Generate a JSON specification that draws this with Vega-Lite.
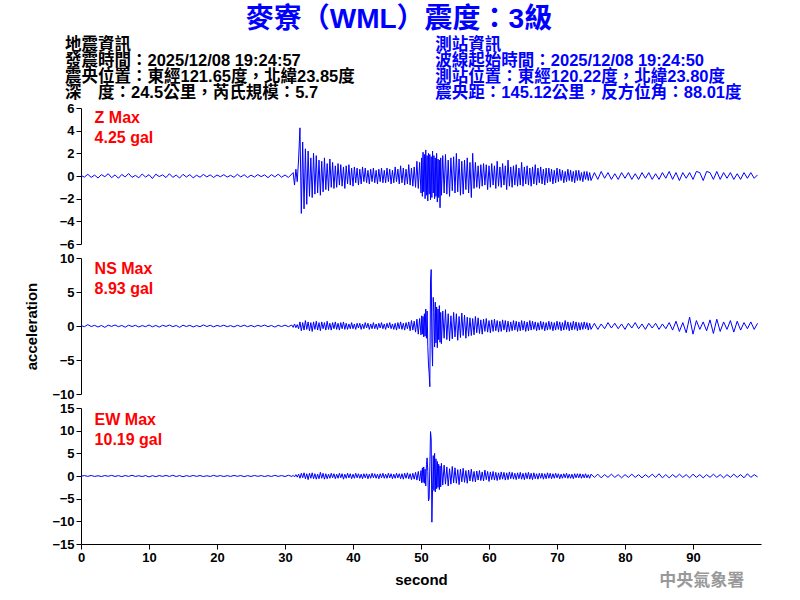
{
"$schema": "https://vega.github.io/schema/vega-lite/v6.json",
"background": "white",
"padding": {"left": 24, "top": 6, "right": 30, "bottom": 5},
"title": {"text": "麥寮（WML）震度：3級", "color": "#0000FF", "font": "Liberation Sans, Noto Sans CJK TC", "fontSize": 28, "fontWeight": "bold", "anchor": "middle", "offset": 3, "dx": 6},
"config": {
  "view": {"stroke": null},
  "axis": {"grid": false, "domainColor": "black", "tickColor": "black", "labelColor": "black", "titleColor": "black", "labelFont": "Liberation Sans", "labelFontSize": 13, "labelFontWeight": "bold", "titleFont": "Liberation Sans", "titleFontSize": 15, "titleFontWeight": "bold", "tickSize": 5, "labelPadding": 2, "labelFlush": false, "labelOverlap": false}
},
"datasets": {
"info": [
{"col": -2.35, "line": 1, "side": "L", "txt": "地震資訊"},
{"col": -2.35, "line": 2, "side": "L", "txt": "發震時間：2025/12/08 19:24:57"},
{"col": -2.35, "line": 3, "side": "L", "txt": "震央位置：東經121.65度，北緯23.85度"},
{"col": -2.35, "line": 4, "side": "L", "txt": "深　度：24.5公里，芮氏規模：5.7"},
{"col": 52.1, "line": 1, "side": "R", "txt": "測站資訊"},
{"col": 52.1, "line": 2, "side": "R", "txt": "波線起始時間：2025/12/08 19:24:50"},
{"col": 52.1, "line": 3, "side": "R", "txt": "測站位置：東經120.22度，北緯23.80度"},
{"col": 52.1, "line": 4, "side": "R", "txt": "震央距：145.12公里，反方位角：88.01度"}
],
"wave": [
{"t":0,"z":0.05,"n":0.05,"e":-0.05},
{"t":0.5,"z":-0.1,"n":-0.1,"e":0.1},
{"t":1,"z":0.15,"n":0.2,"e":-0.08},
{"t":1.5,"z":-0.12,"n":-0.08,"e":0.12},
{"t":2,"z":0.08,"n":0.1,"e":-0.1},
{"t":2.5,"z":-0.18,"n":-0.15,"e":0.06},
{"t":3,"z":0.12,"n":0.08,"e":-0.12},
{"t":3.5,"z":-0.06,"n":-0.2,"e":0.1},
{"t":4,"z":0.2,"n":0.12,"e":-0.06},
{"t":4.5,"z":-0.15,"n":-0.06,"e":0.14},
{"t":5,"z":0.1,"n":0.15,"e":-0.1},
{"t":5.5,"z":-0.2,"n":-0.1,"e":0.08},
{"t":6,"z":0.14,"n":0.08,"e":-0.14},
{"t":6.5,"z":-0.08,"n":-0.18,"e":0.1},
{"t":7,"z":0.22,"n":0.12,"e":-0.08},
{"t":7.5,"z":-0.12,"n":-0.08,"e":0.15},
{"t":8,"z":0.06,"n":0.1,"e":-0.1},
{"t":8.5,"z":-0.16,"n":-0.14,"e":0.06},
{"t":9,"z":0.18,"n":0.06,"e":-0.12},
{"t":9.5,"z":-0.1,"n":-0.1,"e":0.1},
{"t":10,"z":0.12,"n":0.15,"e":-0.2},
{"t":10.5,"z":-0.22,"n":-0.12,"e":0.08},
{"t":11,"z":0.16,"n":0.08,"e":-0.14},
{"t":11.5,"z":-0.05,"n":-0.16,"e":0.1},
{"t":12,"z":0.1,"n":0.1,"e":-0.08},
{"t":12.5,"z":-0.14,"n":-0.06,"e":0.12},
{"t":13,"z":0.2,"n":0.14,"e":-0.1},
{"t":13.5,"z":-0.12,"n":-0.1,"e":0.16},
{"t":14,"z":0.08,"n":0.08,"e":-0.12},
{"t":14.5,"z":-0.18,"n":-0.2,"e":0.1},
{"t":15,"z":0.15,"n":0.12,"e":-0.16},
{"t":15.5,"z":-0.09,"n":-0.08,"e":0.08},
{"t":16,"z":0.12,"n":0.1,"e":-0.1},
{"t":16.5,"z":-0.16,"n":-0.14,"e":0.12},
{"t":17,"z":0.07,"n":0.06,"e":-0.08},
{"t":17.5,"z":-0.11,"n":-0.1,"e":0.1},
{"t":18,"z":0.14,"n":0.16,"e":-0.12},
{"t":18.5,"z":-0.08,"n":-0.08,"e":0.06},
{"t":19,"z":0.1,"n":0.1,"e":-0.1},
{"t":19.5,"z":-0.13,"n":-0.12,"e":0.14},
{"t":20,"z":0.09,"n":0.08,"e":-0.08},
{"t":20.5,"z":-0.07,"n":-0.06,"e":0.1},
{"t":21,"z":0.12,"n":0.12,"e":-0.12},
{"t":21.5,"z":-0.1,"n":-0.1,"e":0.08},
{"t":22,"z":0.06,"n":0.06,"e":-0.1},
{"t":22.5,"z":-0.12,"n":-0.14,"e":0.12},
{"t":23,"z":0.15,"n":0.1,"e":-0.06},
{"t":23.5,"z":-0.09,"n":-0.08,"e":0.1},
{"t":24,"z":0.11,"n":0.12,"e":-0.14},
{"t":24.5,"z":-0.14,"n":-0.1,"e":0.08},
{"t":25,"z":0.08,"n":0.08,"e":-0.1},
{"t":25.5,"z":-0.1,"n":-0.12,"e":0.12},
{"t":26,"z":0.13,"n":0.1,"e":-0.08},
{"t":26.5,"z":-0.06,"n":-0.06,"e":0.1},
{"t":27,"z":0.1,"n":0.14,"e":-0.12},
{"t":27.5,"z":-0.15,"n":-0.1,"e":0.08},
{"t":28,"z":0.12,"n":0.08,"e":-0.1},
{"t":28.5,"z":-0.08,"n":-0.16,"e":0.14},
{"t":29,"z":0.16,"n":0.1,"e":-0.08},
{"t":29.5,"z":-0.11,"n":-0.08,"e":0.1},
{"t":30,"z":0.09,"n":0.12,"e":-0.12},
{"t":30.5,"z":-0.13,"n":-0.1,"e":0.16},
{"t":31,"z":0.18,"n":0.14,"e":-0.1},
{"t":31.2,"z":0.3,"n":-0.2,"e":0.15},
{"t":31.4,"z":-0.8,"n":0.3,"e":-0.2},
{"t":31.6,"z":0.6,"n":-0.25,"e":0.3},
{"t":31.8,"z":-0.5,"n":0.2,"e":-0.25},
{"t":32.0,"z":1.5,"n":-0.4,"e":0.4},
{"t":32.2,"z":4.25,"n":0.6,"e":-0.5},
{"t":32.4,"z":-3.3,"n":-0.7,"e":0.6},
{"t":32.6,"z":3.0,"n":0.5,"e":-0.4},
{"t":32.8,"z":-2.9,"n":-0.6,"e":0.7},
{"t":33.0,"z":2.4,"n":0.8,"e":-0.6},
{"t":33.2,"z":-2.5,"n":-0.5,"e":0.5},
{"t":33.4,"z":2.2,"n":0.6,"e":-0.8},
{"t":33.6,"z":-1.8,"n":-0.7,"e":0.6},
{"t":33.8,"z":1.6,"n":0.5,"e":-0.5},
{"t":34.0,"z":-1.9,"n":-0.8,"e":0.7},
{"t":34.2,"z":2.0,"n":0.6,"e":-0.6},
{"t":34.4,"z":-1.6,"n":-0.5,"e":0.5},
{"t":34.6,"z":1.8,"n":0.7,"e":-0.7},
{"t":34.8,"z":-1.5,"n":-0.6,"e":0.4},
{"t":35.0,"z":1.4,"n":0.5,"e":-0.6},
{"t":35.2,"z":-1.7,"n":-0.7,"e":0.8},
{"t":35.4,"z":1.3,"n":0.6,"e":-0.5},
{"t":35.6,"z":-1.4,"n":-0.4,"e":0.6},
{"t":35.8,"z":1.6,"n":0.5,"e":-0.7},
{"t":36.0,"z":-1.2,"n":-0.6,"e":0.5},
{"t":36.2,"z":1.1,"n":0.7,"e":-0.6},
{"t":36.4,"z":-1.3,"n":-0.5,"e":0.4},
{"t":36.6,"z":1.5,"n":0.4,"e":-0.5},
{"t":36.8,"z":-1.0,"n":-0.6,"e":0.6},
{"t":37.0,"z":1.2,"n":0.5,"e":-0.4},
{"t":37.2,"z":-1.1,"n":-0.4,"e":0.5},
{"t":37.4,"z":0.9,"n":0.6,"e":-0.6},
{"t":37.6,"z":-1.0,"n":-0.5,"e":0.4},
{"t":37.8,"z":1.1,"n":0.4,"e":-0.5},
{"t":38.0,"z":-0.8,"n":-0.6,"e":0.6},
{"t":38.2,"z":1.0,"n":0.5,"e":-0.4},
{"t":38.4,"z":-0.9,"n":-0.4,"e":0.5},
{"t":38.6,"z":0.8,"n":0.6,"e":-0.7},
{"t":38.8,"z":-1.1,"n":-0.5,"e":0.4},
{"t":39.0,"z":0.9,"n":0.4,"e":-0.5},
{"t":39.2,"z":-0.7,"n":-0.5,"e":0.6},
{"t":39.4,"z":1.0,"n":0.3,"e":-0.4},
{"t":39.6,"z":-0.8,"n":-0.4,"e":0.5},
{"t":39.8,"z":0.7,"n":0.5,"e":-0.6},
{"t":40.0,"z":-0.9,"n":-0.4,"e":0.4},
{"t":40.2,"z":0.8,"n":0.3,"e":-0.5},
{"t":40.4,"z":-0.6,"n":-0.5,"e":0.6},
{"t":40.6,"z":0.7,"n":0.4,"e":-0.4},
{"t":40.8,"z":-0.8,"n":-0.3,"e":0.5},
{"t":41.0,"z":0.6,"n":0.4,"e":-0.5},
{"t":41.2,"z":-0.7,"n":-0.5,"e":0.4},
{"t":41.4,"z":0.8,"n":0.3,"e":-0.6},
{"t":41.6,"z":-0.5,"n":-0.4,"e":0.5},
{"t":41.8,"z":0.7,"n":0.5,"e":-0.4},
{"t":42.0,"z":-0.6,"n":-0.3,"e":0.5},
{"t":42.2,"z":0.5,"n":0.4,"e":-0.6},
{"t":42.4,"z":-0.7,"n":-0.5,"e":0.4},
{"t":42.6,"z":0.6,"n":0.3,"e":-0.5},
{"t":42.8,"z":-0.5,"n":-0.4,"e":0.6},
{"t":43.0,"z":0.7,"n":0.5,"e":-0.4},
{"t":43.2,"z":-0.6,"n":-0.4,"e":0.5},
{"t":43.4,"z":0.5,"n":0.3,"e":-0.5},
{"t":43.6,"z":-0.7,"n":-0.5,"e":0.4},
{"t":43.8,"z":0.6,"n":0.4,"e":-0.6},
{"t":44.0,"z":-0.5,"n":-0.3,"e":0.5},
{"t":44.2,"z":0.7,"n":0.5,"e":-0.4},
{"t":44.4,"z":-0.6,"n":-0.4,"e":0.6},
{"t":44.6,"z":0.5,"n":0.3,"e":-0.5},
{"t":44.8,"z":-0.6,"n":-0.5,"e":0.4},
{"t":45.0,"z":0.7,"n":0.4,"e":-0.5},
{"t":45.2,"z":-0.5,"n":-0.3,"e":0.6},
{"t":45.4,"z":0.6,"n":0.5,"e":-0.4},
{"t":45.6,"z":-0.7,"n":-0.4,"e":0.5},
{"t":45.8,"z":0.5,"n":0.3,"e":-0.6},
{"t":46.0,"z":-0.6,"n":-0.5,"e":0.4},
{"t":46.2,"z":0.8,"n":0.4,"e":-0.5},
{"t":46.4,"z":-0.5,"n":-0.6,"e":0.6},
{"t":46.6,"z":0.6,"n":0.5,"e":-0.4},
{"t":46.8,"z":-0.7,"n":-0.4,"e":0.5},
{"t":47.0,"z":0.9,"n":0.6,"e":-0.6},
{"t":47.2,"z":-0.6,"n":-0.5,"e":0.5},
{"t":47.4,"z":0.7,"n":0.4,"e":-0.7},
{"t":47.6,"z":-0.8,"n":-0.6,"e":0.6},
{"t":47.8,"z":0.6,"n":0.5,"e":-0.5},
{"t":48.0,"z":-0.7,"n":-0.4,"e":0.7},
{"t":48.2,"z":1.0,"n":0.6,"e":-0.6},
{"t":48.4,"z":-0.8,"n":-0.7,"e":0.5},
{"t":48.6,"z":0.7,"n":0.8,"e":-0.8},
{"t":48.8,"z":-0.9,"n":-0.6,"e":0.6},
{"t":49.0,"z":0.8,"n":0.7,"e":-0.7},
{"t":49.2,"z":-1.0,"n":-0.9,"e":0.8},
{"t":49.4,"z":1.3,"n":1.0,"e":-0.9},
{"t":49.6,"z":-1.1,"n":-1.2,"e":1.0},
{"t":49.8,"z":1.2,"n":1.1,"e":-1.1},
{"t":50.0,"z":-1.5,"n":-1.3,"e":1.2},
{"t":50.1,"z":1.6,"n":1.5,"e":-1.5},
{"t":50.2,"z":-1.8,"n":-1.2,"e":1.8},
{"t":50.3,"z":2.1,"n":1.4,"e":-1.4},
{"t":50.4,"z":-1.4,"n":-1.6,"e":2.0},
{"t":50.5,"z":1.9,"n":1.8,"e":-1.6},
{"t":50.6,"z":-2.0,"n":-1.5,"e":1.5},
{"t":50.7,"z":2.3,"n":2.5,"e":-2.2},
{"t":50.8,"z":-1.7,"n":-1.8,"e":2.5},
{"t":50.9,"z":1.8,"n":2.2,"e":4.0},
{"t":51.0,"z":-2.2,"n":-3.0,"e":1.0},
{"t":51.1,"z":2.0,"n":-5.6,"e":-5.5},
{"t":51.2,"z":-1.6,"n":-7.0,"e":-5.0},
{"t":51.3,"z":1.9,"n":-8.93,"e":2.0},
{"t":51.4,"z":-2.1,"n":6.6,"e":9.8},
{"t":51.5,"z":1.7,"n":8.3,"e":8.2},
{"t":51.6,"z":-1.9,"n":-2.6,"e":-10.19},
{"t":51.7,"z":2.2,"n":-5.9,"e":-3.0},
{"t":51.8,"z":-1.5,"n":4.2,"e":4.5},
{"t":51.9,"z":1.8,"n":2.0,"e":-3.2},
{"t":52.0,"z":-2.0,"n":-3.1,"e":5.0},
{"t":52.1,"z":1.6,"n":3.5,"e":-3.5},
{"t":52.2,"z":-1.8,"n":-2.5,"e":3.8},
{"t":52.3,"z":2.0,"n":2.8,"e":-2.8},
{"t":52.4,"z":-2.3,"n":-3.2,"e":3.2},
{"t":52.5,"z":1.5,"n":2.5,"e":-2.5},
{"t":52.6,"z":-1.9,"n":-2.0,"e":2.6},
{"t":52.7,"z":1.4,"n":3.0,"e":-3.0},
{"t":52.8,"z":-2.8,"n":-2.4,"e":2.2},
{"t":52.9,"z":1.6,"n":2.0,"e":-2.4},
{"t":53.0,"z":-1.7,"n":-2.6,"e":2.8},
{"t":53.2,"z":1.8,"n":2.2,"e":-2.0},
{"t":53.4,"z":-1.5,"n":-1.8,"e":2.4},
{"t":53.6,"z":1.9,"n":2.4,"e":-1.8},
{"t":53.8,"z":-1.6,"n":-2.0,"e":2.0},
{"t":54.0,"z":1.4,"n":1.8,"e":-2.2},
{"t":54.2,"z":-1.8,"n":-2.2,"e":1.6},
{"t":54.4,"z":1.6,"n":1.5,"e":-1.8},
{"t":54.6,"z":-1.3,"n":-1.9,"e":2.1},
{"t":54.8,"z":1.7,"n":2.0,"e":-1.5},
{"t":55.0,"z":-1.5,"n":-1.6,"e":1.8},
{"t":55.2,"z":2.0,"n":1.8,"e":-1.6},
{"t":55.4,"z":-1.4,"n":-2.1,"e":1.4},
{"t":55.6,"z":1.5,"n":1.4,"e":-1.9},
{"t":55.8,"z":-1.7,"n":-1.7,"e":1.5},
{"t":56.0,"z":1.3,"n":1.9,"e":-1.3},
{"t":56.2,"z":-1.6,"n":-1.4,"e":1.7},
{"t":56.4,"z":1.4,"n":1.6,"e":-1.4},
{"t":56.6,"z":-1.2,"n":-1.8,"e":1.2},
{"t":56.8,"z":1.6,"n":1.3,"e":-1.6},
{"t":57.0,"z":-1.5,"n":-1.5,"e":1.3},
{"t":57.2,"z":1.2,"n":1.2,"e":-1.1},
{"t":57.4,"z":-1.9,"n":-1.4,"e":1.5},
{"t":57.6,"z":2.0,"n":1.1,"e":-1.2},
{"t":57.8,"z":-1.1,"n":-1.3,"e":1.0},
{"t":58.0,"z":1.2,"n":1.4,"e":-1.3},
{"t":58.2,"z":-1.0,"n":-1.0,"e":1.1},
{"t":58.4,"z":0.9,"n":1.2,"e":-0.9},
{"t":58.6,"z":-1.1,"n":-1.1,"e":1.2},
{"t":58.8,"z":1.0,"n":0.9,"e":-1.0},
{"t":59.0,"z":-0.9,"n":-1.2,"e":0.9},
{"t":59.2,"z":1.1,"n":1.0,"e":-1.1},
{"t":59.4,"z":-0.8,"n":-0.8,"e":1.3},
{"t":59.6,"z":1.0,"n":1.1,"e":-0.8},
{"t":59.8,"z":-1.2,"n":-0.9,"e":1.0},
{"t":60.0,"z":0.9,"n":0.8,"e":-1.2},
{"t":60.2,"z":-1.0,"n":-1.0,"e":0.9},
{"t":60.4,"z":1.1,"n":0.9,"e":-0.8},
{"t":60.6,"z":-0.8,"n":-0.8,"e":1.0},
{"t":60.8,"z":0.9,"n":1.0,"e":-0.9},
{"t":61.0,"z":-1.1,"n":-0.7,"e":0.8},
{"t":61.2,"z":1.3,"n":0.8,"e":-1.0},
{"t":61.4,"z":-0.9,"n":-0.9,"e":0.7},
{"t":61.6,"z":0.8,"n":0.7,"e":-0.8},
{"t":61.8,"z":-1.0,"n":-0.8,"e":0.9},
{"t":62.0,"z":1.1,"n":0.9,"e":-0.7},
{"t":62.2,"z":-0.8,"n":-0.6,"e":0.8},
{"t":62.4,"z":0.9,"n":0.8,"e":-0.9},
{"t":62.6,"z":-1.2,"n":-0.9,"e":0.7},
{"t":62.8,"z":1.4,"n":0.7,"e":-0.8},
{"t":63.0,"z":-0.9,"n":-0.8,"e":0.9},
{"t":63.2,"z":0.8,"n":0.6,"e":-0.6},
{"t":63.4,"z":-1.0,"n":-0.7,"e":0.8},
{"t":63.6,"z":0.9,"n":0.8,"e":-0.7},
{"t":63.8,"z":-0.8,"n":-0.6,"e":0.6},
{"t":64.0,"z":1.0,"n":0.7,"e":-0.8},
{"t":64.2,"z":-0.9,"n":-0.8,"e":0.7},
{"t":64.4,"z":0.7,"n":0.6,"e":-0.6},
{"t":64.6,"z":-0.8,"n":-0.7,"e":0.8},
{"t":64.8,"z":1.2,"n":0.8,"e":-0.7},
{"t":65.0,"z":-0.9,"n":-0.6,"e":0.6},
{"t":65.2,"z":0.8,"n":0.7,"e":-0.8},
{"t":65.4,"z":-0.7,"n":-0.8,"e":0.7},
{"t":65.6,"z":0.9,"n":0.6,"e":-0.6},
{"t":65.8,"z":-0.8,"n":-0.7,"e":0.8},
{"t":66.0,"z":0.7,"n":0.8,"e":-0.7},
{"t":66.2,"z":-0.9,"n":-0.6,"e":0.6},
{"t":66.4,"z":0.8,"n":0.7,"e":-0.8},
{"t":66.6,"z":-0.7,"n":-0.5,"e":0.7},
{"t":66.8,"z":1.0,"n":0.6,"e":-0.6},
{"t":67.0,"z":-0.8,"n":-0.7,"e":0.5},
{"t":67.2,"z":0.7,"n":0.5,"e":-0.7},
{"t":67.4,"z":-0.6,"n":-0.6,"e":0.6},
{"t":67.6,"z":0.8,"n":0.7,"e":-0.5},
{"t":67.8,"z":-0.7,"n":-0.5,"e":0.6},
{"t":68.0,"z":0.6,"n":0.6,"e":-0.7},
{"t":68.2,"z":-0.8,"n":-0.7,"e":0.5},
{"t":68.4,"z":0.7,"n":0.5,"e":-0.6},
{"t":68.6,"z":-0.6,"n":-0.6,"e":0.7},
{"t":68.8,"z":0.7,"n":0.7,"e":-0.5},
{"t":69.0,"z":-0.5,"n":-0.5,"e":0.6},
{"t":69.2,"z":0.6,"n":0.6,"e":-0.6},
{"t":69.4,"z":-0.7,"n":-0.7,"e":0.5},
{"t":69.6,"z":0.5,"n":0.5,"e":-0.5},
{"t":69.8,"z":-0.6,"n":-0.6,"e":0.6},
{"t":70.0,"z":0.7,"n":0.7,"e":-0.4},
{"t":70.2,"z":-0.5,"n":-0.5,"e":0.5},
{"t":70.4,"z":0.6,"n":0.6,"e":-0.6},
{"t":70.6,"z":-0.4,"n":-0.7,"e":0.4},
{"t":70.8,"z":0.5,"n":0.5,"e":-0.5},
{"t":71.0,"z":-0.6,"n":-0.6,"e":0.5},
{"t":71.2,"z":0.4,"n":0.8,"e":-0.4},
{"t":71.4,"z":-0.5,"n":-0.5,"e":0.6},
{"t":71.6,"z":0.6,"n":0.6,"e":-0.5},
{"t":71.8,"z":-0.4,"n":-0.7,"e":0.4},
{"t":72.0,"z":0.5,"n":0.5,"e":-0.5},
{"t":72.2,"z":-0.5,"n":-0.6,"e":0.4},
{"t":72.4,"z":0.4,"n":0.7,"e":-0.6},
{"t":72.6,"z":-0.6,"n":-0.5,"e":0.5},
{"t":72.8,"z":0.5,"n":0.6,"e":-0.4},
{"t":73.0,"z":-0.4,"n":-0.7,"e":0.5},
{"t":73.2,"z":0.5,"n":0.5,"e":-0.4},
{"t":73.4,"z":-0.4,"n":-0.6,"e":0.5},
{"t":73.6,"z":0.3,"n":0.5,"e":-0.5},
{"t":73.8,"z":-0.5,"n":-0.5,"e":0.4},
{"t":74.0,"z":0.4,"n":0.6,"e":-0.4},
{"t":74.2,"z":-0.3,"n":-0.4,"e":0.5},
{"t":74.4,"z":0.4,"n":0.5,"e":-0.4},
{"t":74.6,"z":-0.4,"n":-0.6,"e":0.3},
{"t":74.8,"z":0.3,"n":0.4,"e":-0.5},
{"t":75.0,"z":-0.4,"n":-0.5,"e":0.4},
{"t":75.5,"z":0.3,"n":0.4,"e":-0.3},
{"t":76.0,"z":-0.3,"n":-0.5,"e":0.4},
{"t":76.5,"z":0.4,"n":0.3,"e":-0.4},
{"t":77.0,"z":-0.2,"n":-0.4,"e":0.3},
{"t":77.5,"z":0.3,"n":0.5,"e":-0.3},
{"t":78.0,"z":-0.3,"n":-0.3,"e":0.4},
{"t":78.5,"z":0.2,"n":0.4,"e":-0.3},
{"t":79.0,"z":-0.3,"n":-0.4,"e":0.3},
{"t":79.5,"z":0.3,"n":0.3,"e":-0.4},
{"t":80.0,"z":-0.2,"n":-0.5,"e":0.3},
{"t":80.5,"z":0.3,"n":0.4,"e":-0.3},
{"t":81.0,"z":-0.3,"n":-0.3,"e":0.4},
{"t":81.5,"z":0.2,"n":0.5,"e":-0.3},
{"t":82.0,"z":-0.3,"n":-0.4,"e":0.3},
{"t":82.5,"z":0.3,"n":0.3,"e":-0.4},
{"t":83.0,"z":-0.2,"n":-0.5,"e":0.3},
{"t":83.5,"z":0.3,"n":0.4,"e":-0.3},
{"t":84.0,"z":-0.3,"n":-0.3,"e":0.4},
{"t":84.5,"z":0.2,"n":0.4,"e":-0.3},
{"t":85.0,"z":-0.3,"n":-0.5,"e":0.5},
{"t":85.5,"z":0.3,"n":0.3,"e":-0.4},
{"t":86.0,"z":-0.2,"n":-0.4,"e":0.3},
{"t":86.5,"z":0.4,"n":0.5,"e":-0.4},
{"t":87.0,"z":-0.3,"n":-0.6,"e":0.3},
{"t":87.5,"z":0.3,"n":0.7,"e":-0.3},
{"t":88.0,"z":-0.4,"n":-0.8,"e":0.4},
{"t":88.5,"z":0.3,"n":0.5,"e":-0.3},
{"t":89.0,"z":-0.2,"n":-1.0,"e":0.3},
{"t":89.5,"z":0.3,"n":1.3,"e":-0.4},
{"t":90.0,"z":-0.3,"n":-1.2,"e":0.4},
{"t":90.5,"z":0.4,"n":0.8,"e":-0.3},
{"t":91.0,"z":0.3,"n":-0.5,"e":0.3},
{"t":91.5,"z":-0.4,"n":0.6,"e":-0.4},
{"t":92.0,"z":0.4,"n":-0.7,"e":0.3},
{"t":92.5,"z":0.3,"n":0.9,"e":-0.3},
{"t":93.0,"z":-0.3,"n":-1.1,"e":0.4},
{"t":93.5,"z":0.4,"n":1.0,"e":-0.3},
{"t":94.0,"z":-0.3,"n":-0.8,"e":0.3},
{"t":94.5,"z":0.3,"n":0.6,"e":-0.4},
{"t":95.0,"z":-0.2,"n":-0.5,"e":0.3},
{"t":95.5,"z":0.3,"n":0.8,"e":-0.3},
{"t":96.0,"z":-0.3,"n":-0.9,"e":0.4},
{"t":96.5,"z":0.2,"n":0.7,"e":-0.3},
{"t":97.0,"z":-0.3,"n":-0.6,"e":0.3},
{"t":97.5,"z":0.3,"n":0.5,"e":-0.4},
{"t":98.0,"z":-0.2,"n":-0.4,"e":0.5},
{"t":98.5,"z":0.3,"n":0.6,"e":-0.3},
{"t":99.0,"z":-0.2,"n":-0.5,"e":0.3},
{"t":99.5,"z":0.1,"n":0.4,"e":-0.2}
]
},
"spacing": 7,
"bounds": "flush",
"vconcat": [
{
  "width": 680, "height": 64,
  "data": {"name": "info"},
  "mark": {"type": "text", "align": "left", "baseline": "middle", "font": "Liberation Sans, Noto Sans CJK TC", "fontSize": 16.5, "fontWeight": "bold"},
  "encoding": {
    "x": {"field": "col", "type": "quantitative", "scale": {"domain": [0, 100], "nice": false}, "axis": null},
    "y": {"field": "line", "type": "quantitative", "scale": {"domain": [0.5, 4.5], "reverse": true, "nice": false, "zero": false}, "axis": null},
    "text": {"field": "txt"},
    "color": {"field": "side", "type": "nominal", "scale": {"domain": ["L", "R"], "range": ["#000000", "#0000FF"]}, "legend": null}
  }
},
{
  "spacing": 14,
  "bounds": "flush",
  "vconcat": [
  {
    "width": 680, "height": 136,
    "layer": [
      {"data": {"name": "wave"}, "mark": {"type": "line", "color": "#0000FF", "strokeWidth": 1},
       "encoding": {
         "x": {"field": "t", "type": "quantitative", "scale": {"domain": [0, 100], "nice": false}, "axis": null},
         "y": {"field": "z", "type": "quantitative", "scale": {"domain": [-6, 6], "nice": false}, "axis": {"values": [-6, -4, -2, 0, 2, 4, 6], "title": null, "labelOverlap": false, "tickCount": 7}}
       }},
      {"data": {"values": [{"t": 2.0, "v": 5.8, "txt": "Z Max\n4.25 gal"}]},
       "mark": {"type": "text", "align": "left", "baseline": "top", "color": "#FF0000", "font": "Liberation Sans", "fontSize": 16, "fontWeight": "bold", "lineBreak": "\n", "lineHeight": 20},
       "encoding": {"x": {"field": "t", "type": "quantitative"}, "y": {"field": "v", "type": "quantitative"}, "text": {"field": "txt"}}}
    ]
  },
  {
    "width": 680, "height": 136,
    "layer": [
      {"data": {"name": "wave"}, "mark": {"type": "line", "color": "#0000FF", "strokeWidth": 1},
       "encoding": {
         "x": {"field": "t", "type": "quantitative", "scale": {"domain": [0, 100], "nice": false}, "axis": null},
         "y": {"field": "n", "type": "quantitative", "scale": {"domain": [-10, 10], "nice": false}, "axis": {"values": [-10, -5, 0, 5, 10], "title": "acceleration", "titlePadding": 12, "labelOverlap": false, "tickCount": 5}}
       }},
      {"data": {"values": [{"t": 2.0, "v": 9.5, "txt": "NS Max\n8.93 gal"}]},
       "mark": {"type": "text", "align": "left", "baseline": "top", "color": "#FF0000", "font": "Liberation Sans", "fontSize": 16, "fontWeight": "bold", "lineBreak": "\n", "lineHeight": 20},
       "encoding": {"x": {"field": "t", "type": "quantitative"}, "y": {"field": "v", "type": "quantitative"}, "text": {"field": "txt"}}}
    ]
  },
  {
    "width": 680, "height": 136,
    "layer": [
      {"data": {"name": "wave"}, "mark": {"type": "line", "color": "#0000FF", "strokeWidth": 1},
       "encoding": {
         "x": {"field": "t", "type": "quantitative", "scale": {"domain": [0, 100], "nice": false}, "axis": {"values": [0, 10, 20, 30, 40, 50, 60, 70, 80, 90], "title": "second", "titlePadding": 8, "labelOverlap": false}},
         "y": {"field": "e", "type": "quantitative", "scale": {"domain": [-15, 15], "nice": false}, "axis": {"values": [-15, -10, -5, 0, 5, 10, 15], "title": null, "labelOverlap": false, "tickCount": 7}}
       }},
      {"data": {"values": [{"t": 2.0, "v": 14.2, "txt": "EW Max\n10.19 gal"}]},
       "mark": {"type": "text", "align": "left", "baseline": "top", "color": "#FF0000", "font": "Liberation Sans", "fontSize": 16, "fontWeight": "bold", "lineBreak": "\n", "lineHeight": 20},
       "encoding": {"x": {"field": "t", "type": "quantitative"}, "y": {"field": "v", "type": "quantitative"}, "text": {"field": "txt"}}},
      {"data": {"values": [{"t": 91.3, "v": -23.1, "txt": "中央氣象署"}]},
       "mark": {"type": "text", "align": "center", "baseline": "middle", "color": "#999999", "font": "Noto Sans CJK TC", "fontSize": 17, "fontWeight": "bold"},
       "encoding": {"x": {"field": "t", "type": "quantitative"}, "y": {"field": "v", "type": "quantitative"}, "text": {"field": "txt"}}}
    ]
  }
  ]
}
]
}
